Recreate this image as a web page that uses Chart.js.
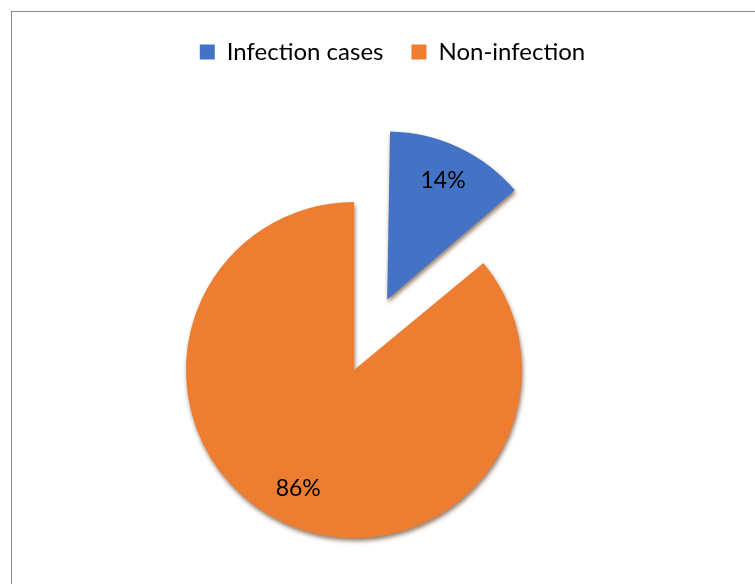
<!DOCTYPE html>
<html>
<head>
<meta charset="utf-8">
<script src="https://cdn.jsdelivr.net/npm/chart.js@4/dist/chart.umd.min.js"></script>
<style>
  html, body { margin: 0; padding: 0; background: #fff; overflow: hidden; width: 755px; height: 584px; }
  #frame { position: absolute; left: 11px; top: 11px; width: 780px; height: 620px;
           border-left: 1px solid #898989; border-top: 1px solid #898989; }
  #c { position: absolute; left: 0; top: 0; }
</style>
</head>
<body>
<div id="frame"><canvas id="c" width="684" height="654"></canvas></div>
<script>
// ---- data ----
const categories = ['Infection cases', 'Non-infection'];
const values = [14, 86];

// ---- style ----
const sliceColors = ['#4472C4', '#ED7D31'];
const sliceOffsets = [312, 0];   // Chart.js v4 translates an arc by offset/4
const FONT = 'Lato';

// Chart.js enlarges an offset arc by offset/4 * fix; undo that so the
// exploded slice keeps the same radius as the others
function radiusGrowth(arc) {
  const off = (arc.options.offset || 0) / 4;
  return off * (1 - Math.sin(Math.min(Math.PI, arc.circumference)));
}

const explodeFix = {
  id: 'explodeFix',
  afterDatasetUpdate(chart, args) {
    args.meta.data.forEach(arc => { arc.outerRadius -= radiusGrowth(arc); });
  }
};

const pieShadow = {
  id: 'pieShadow',
  beforeDatasetsDraw(chart) {
    const c = chart.ctx;
    c.save();
    c.shadowColor = 'rgba(80,40,10,0.6)';
    c.shadowBlur = 4;
    c.shadowOffsetX = 1;
    c.shadowOffsetY = 3;
  },
  afterDatasetsDraw(chart) { chart.ctx.restore(); }
};

const sliceLabels = {
  id: 'sliceLabels',
  afterDraw(chart) {
    const ctx = chart.ctx;
    const meta = chart.getDatasetMeta(0);
    const total = values.reduce((a, b) => a + b, 0);
    ctx.save();
    ctx.font = '23px ' + FONT;
    ctx.fillStyle = '#000';
    ctx.textAlign = 'center';
    ctx.textBaseline = 'middle';
    meta.data.forEach((arc, i) => {
      const mid = (arc.startAngle + arc.endAngle) / 2;
      const r = arc.outerRadius + radiusGrowth(arc);
      const d = (arc.options.offset || 0) / 4 + r * 0.78;
      ctx.fillText(Math.round(values[i] / total * 100) + '%',
                   arc.x + Math.cos(mid) * d, arc.y + Math.sin(mid) * d);
    });
    ctx.restore();
  }
};

const legendShift = {
  id: 'legendShift',
  afterLayout(chart) {
    const l = chart.legend;
    l.left += 38.5;
    l.right += 38.5;
  }
};

new Chart(document.getElementById('c'), {
  type: 'pie',
  data: {
    labels: categories,
    datasets: [{
      data: values,
      backgroundColor: sliceColors,
      borderWidth: 0,
      offset: sliceOffsets,
      hoverOffset: 0
    }]
  },
  options: {
    responsive: false,
    animation: false,
    events: [],
    radius: 168,
    layout: { padding: { top: 0, left: 0, right: 0, bottom: 0 } },
    plugins: {
      tooltip: { enabled: false },
      legend: {
        position: 'top',
        labels: {
          font: { family: FONT, size: 24 },
          color: '#000',
          boxWidth: 15,
          boxHeight: 15,
          padding: 28
        }
      }
    }
  },
  plugins: [explodeFix, pieShadow, sliceLabels, legendShift]
});
</script>
</body>
</html>
